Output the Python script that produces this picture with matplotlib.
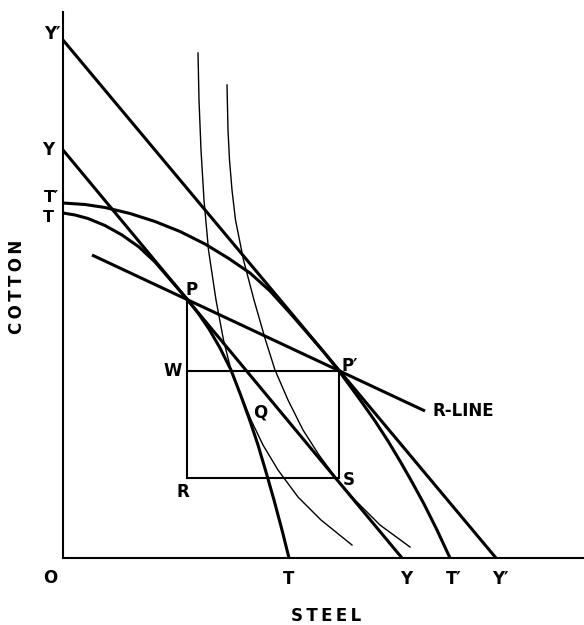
import matplotlib
matplotlib.use("Agg")
import matplotlib.pyplot as plt

# Quantities (steel on x, cotton on y, origin at O)
x_max, y_max = 521, 546

# budget lines: (cotton intercept, steel intercept)
yy_line = (408, 339)
yy2_line = (518, 433)

# production possibility curve T-T
tt_steel = [0, 12, 25, 42, 59, 76, 92, 108, 124, 135, 146, 157, 168, 178,
            187, 195, 203, 211, 219, 226]
tt_cotton = [345, 343, 339.5, 332.5, 323, 311, 296, 277.5, 259, 245, 229, 210,
             188, 162, 137, 113, 86, 58, 28, 0]

# production possibility curve T'-T'
tt2_steel = [0, 22, 42, 67, 92, 117, 142, 165, 187, 207, 227, 247, 262, 276,
             287, 299, 312, 325, 337, 349, 361, 374, 387]
tt2_cotton = [355, 353.5, 350.5, 344.5, 336.5, 326.5, 314, 300, 285, 267, 245,
              222, 204.5, 187, 172, 155.5, 137, 117, 97, 76, 54, 28, 0]

# indifference curves (thin)
ic1_steel = [135, 136, 138, 141, 145.5, 153, 160.5, 168, 178, 188, 200, 215,
             235, 258, 289]
ic1_cotton = [505, 458, 408, 358, 308, 258, 218, 188, 163, 138, 113, 88, 61,
              38, 13]
ic2_steel = [164, 165, 166.5, 169, 172.5, 180.5, 191, 202.5, 212, 225, 240,
             256, 273, 292, 317, 347]
ic2_cotton = [473, 428, 398, 368, 338, 298, 258, 218, 188, 158, 128, 103, 80,
              58, 33, 11]

# R-line end points
rline_steel = [29, 362]
rline_cotton = [303, 147]

# points of the diagram
P = (124, 259)
P2 = (276, 187)
R = (124, 80)
S = (276, 80)

fig = plt.figure(figsize=(5.84, 6.25), dpi=100)
ax = fig.add_axes([63 / 584, 67 / 625, 521 / 584, 546 / 625])
ax.set_xlim(0, x_max)
ax.set_ylim(0, y_max)
for side in ["top", "right"]:
    ax.spines[side].set_visible(False)
for side in ["left", "bottom"]:
    ax.spines[side].set_linewidth(1.5)
ax.set_xticks([])
ax.set_yticks([])

thick = dict(color="black", lw=2.2, solid_capstyle="butt")
thin = dict(color="black", lw=1.0)
box = dict(color="black", lw=1.5)

# budget lines
for c0, s0 in [yy_line, yy2_line]:
    ax.plot([0, s0], [c0, 0], **thick)

ax.plot(tt_steel, tt_cotton, **thick)
ax.plot(tt2_steel, tt2_cotton, **thick)
ax.plot(ic1_steel, ic1_cotton, **thin)
ax.plot(ic2_steel, ic2_cotton, **thin)
ax.plot(rline_steel, rline_cotton, **thick)

# rectangle P - P' - S - R
ax.plot([P[0], P2[0]], [P2[1], P2[1]], **box)
ax.plot([R[0], S[0]], [R[1], S[1]], **box)
ax.plot([P[0], R[0]], [P[1], R[1]], **box)
ax.plot([P2[0], S[0]], [P2[1], S[1]], **box)

font = dict(fontsize=12, fontweight="bold", family="DejaVu Sans")
small = dict(font, fontsize=11.5)
ts = "\u2009"

# axis labels at intercepts
ax.text(-2, yy2_line[0] + 6, "Y\u2032", ha="right", va="center", clip_on=False, **font)
ax.text(-9, yy_line[0], "Y", ha="right", va="center", clip_on=False, **font)
ax.text(-4, tt2_cotton[0] + 5, "T\u2032", ha="right", va="center", clip_on=False, **small)
ax.text(-9, tt_cotton[0] - 5, "T", ha="right", va="center", clip_on=False, **small)
ax.text(-13, -20, "O", ha="center", va="center", clip_on=False, **font)
ax.text(tt_steel[-1], -21, "T", ha="center", va="center", clip_on=False, **font)
ax.text(yy_line[1] + 4, -21, "Y", ha="center", va="center", clip_on=False, **font)
ax.text(tt2_steel[-1] + 4, -21, "T\u2032", ha="center", va="center", clip_on=False, **font)
ax.text(yy2_line[1] + 4, -21, "Y\u2032", ha="center", va="center", clip_on=False, **font)

ax.text(263, -58, ts.join("STEEL"), ha="center", va="center", clip_on=False, **font)
ax.text(-46, 271, ts.join("COTTON"), ha="center", va="center", rotation=90,
        clip_on=False, **font)

# point labels
ax.text(P[0] + 5, P[1] + 9, "P", ha="center", va="center", **font)
ax.text(P2[0] + 11, P2[1] + 5, "P\u2032", ha="center", va="center", **font)
ax.text(P[0] - 14, P2[1], "W", ha="center", va="center", **font)
ax.text(197, 146, "Q", ha="center", va="center", **font)
ax.text(R[0] - 4, R[1] - 14, "R", ha="center", va="center", **font)
ax.text(S[0] + 10, S[1] - 2, "S", ha="center", va="center", **font)
ax.text(rline_steel[1] + 7, rline_cotton[1], "R-LINE", ha="left", va="center", **font)

fig.savefig("out.png", dpi=100)
